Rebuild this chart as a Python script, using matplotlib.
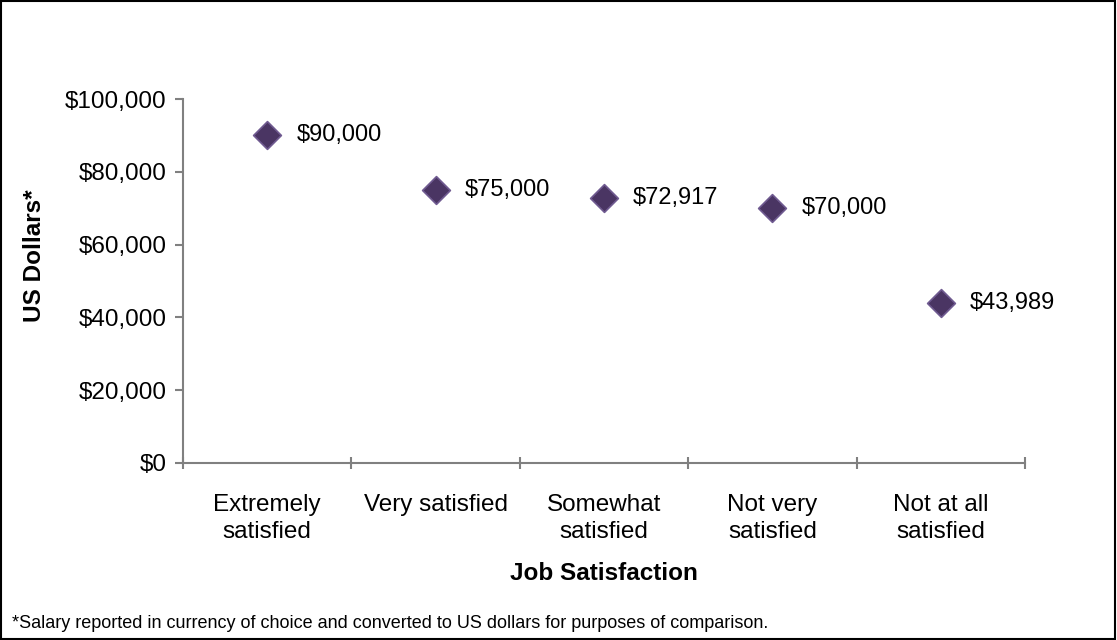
import matplotlib.pyplot as plt
from matplotlib.ticker import FuncFormatter, MultipleLocator
from matplotlib.patches import Rectangle

categories = ["Extremely\nsatisfied", "Very satisfied", "Somewhat\nsatisfied",
              "Not very\nsatisfied", "Not at all\nsatisfied"]
salaries = [90000, 75000, 72917, 70000, 43989]
footnote = "*Salary reported in currency of choice and converted to US dollars for purposes of comparison."

plt.rcParams['font.family'] = ['Liberation Sans', 'DejaVu Sans']

fig = plt.figure(figsize=(11.17, 6.4), dpi=100)
ax = fig.add_axes([0.1638, 0.2766, 0.7539, 0.5687])

x = [i + 0.5 for i in range(len(categories))]
ax.scatter(x, salaries, marker='D', s=200, color='#4a3563', edgecolors='#6f5a90',
           linewidths=1.2, zorder=3)
for xi, v in zip(x, salaries):
    ax.annotate("${:,}".format(v), (xi, v), xytext=(21, 0), textcoords='offset points',
                va='center', ha='left', fontsize=17)

ax.set_xlim(0, len(categories))
ax.set_ylim(0, 100000)
ax.yaxis.set_major_locator(MultipleLocator(20000))
ax.yaxis.set_major_formatter(FuncFormatter(lambda v, p: "${:,.0f}".format(v)))

ax.set_xticks(range(len(categories) + 1))
ax.set_xticklabels([])
ax.set_xticks(x, minor=True)
ax.set_xticklabels(categories, minor=True, fontsize=17.5, linespacing=1.33)
ax.tick_params(axis='x', which='minor', length=0, pad=22)
ax.tick_params(axis='x', which='major', length=8, direction='inout', color='#808080', width=1.5)
ax.tick_params(axis='y', length=6, direction='out', color='#808080', width=1.5, labelsize=17.5, pad=6)

for s in ['top', 'right']:
    ax.spines[s].set_visible(False)
for s in ['left', 'bottom']:
    ax.spines[s].set_color('#808080')
    ax.spines[s].set_linewidth(1.5)

ax.set_xlabel("Job Satisfaction", fontsize=17.5, fontweight='bold')
ax.xaxis.set_label_coords(0.5, -0.272)
ax.set_ylabel("US Dollars*", fontsize=17.5, fontweight='bold')
ax.yaxis.set_label_coords(-0.163, 0.57)

# footnote sits just above the bottom border
fig.text(0.011, 0.026, footnote, fontsize=13, ha='left', va='center')
fig.patches.append(Rectangle((0.001, 0.002), 0.997, 0.996, transform=fig.transFigure,
                             fill=False, edgecolor='black', linewidth=1.5))

fig.savefig('out.png', dpi=100)
